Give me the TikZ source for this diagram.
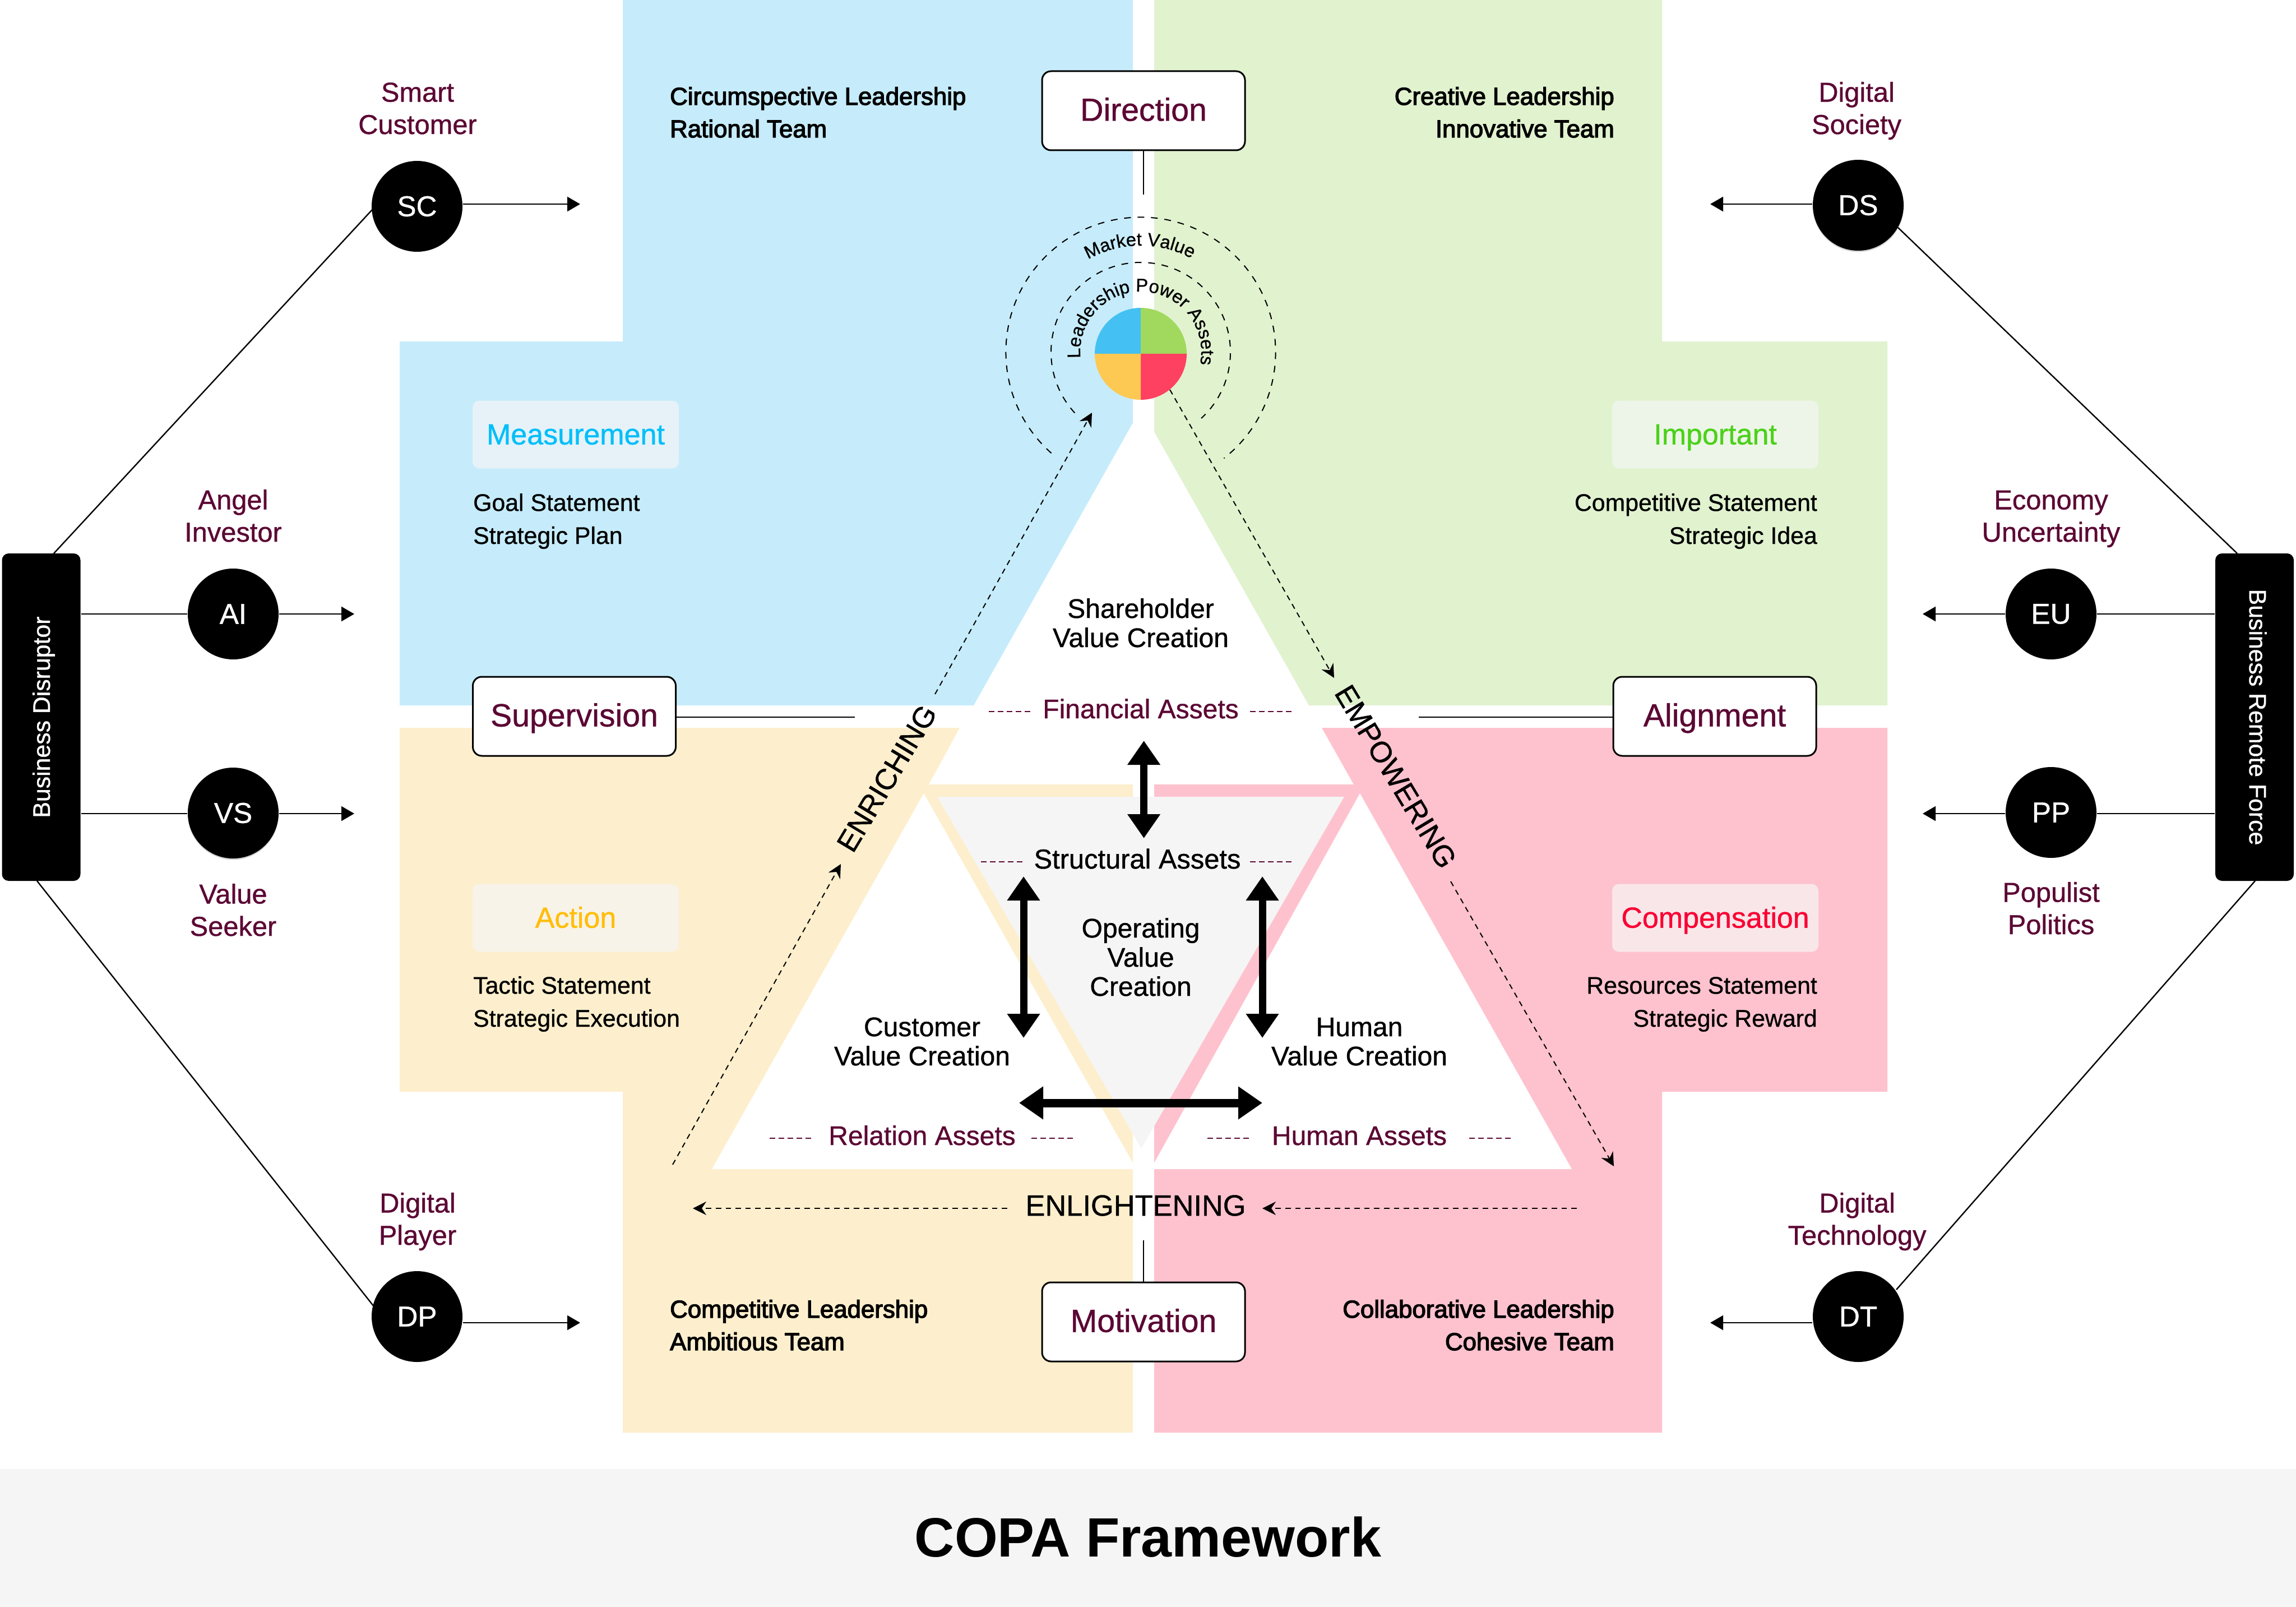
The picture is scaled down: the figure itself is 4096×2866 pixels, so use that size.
\documentclass[tikz,border=0pt]{standalone}
\usepackage{fontspec}
\setmainfont[FakeBold=0.8]{Liberation Sans}
\newfontfamily\medfont[FakeBold=3]{Liberation Sans}
\newfontfamily\titlefont{Liberation Sans Bold}
\usetikzlibrary{arrows.meta,decorations.text,shadows}
\definecolor{myblue}{RGB}{198, 236, 251}
\definecolor{mygreen}{RGB}{225, 242, 207}
\definecolor{myyellow}{RGB}{253, 239, 205}
\definecolor{mypink}{RGB}{254, 194, 206}
\definecolor{mygray}{RGB}{245, 245, 245}
\definecolor{mymaroon}{RGB}{92, 8, 52}
\definecolor{pieblue}{RGB}{69, 192, 243}
\definecolor{piegreen}{RGB}{160, 217, 93}
\definecolor{pieyellow}{RGB}{254, 201, 82}
\definecolor{piered}{RGB}{254, 65, 96}
\tikzset{every picture/.style={line width=0.6pt}}
\tikzset{
  sidelabel/.style={anchor=base,align=center,inner sep=0pt,text=mymaroon,font=\fontsize{12.2}{14.4}\selectfont},
  bodyleft/.style={anchor=base west,align=left,inner sep=0pt,font=\fontsize{10.7}{14.7}\selectfont},
  bodyright/.style={anchor=base east,align=right,inner sep=0pt,font=\fontsize{10.7}{14.7}\selectfont},
  leadleft/.style={anchor=base west,align=left,inner sep=0pt,font=\medfont\fontsize{10.95}{14.5}\selectfont},
  leadright/.style={anchor=base east,align=right,inner sep=0pt,font=\medfont\fontsize{10.95}{14.5}\selectfont},
  valuetext/.style={anchor=base,align=center,inner sep=0pt,font=\fontsize{12}{13}\selectfont},
  assettext/.style={anchor=base,inner sep=0pt,text=mymaroon,font=\fontsize{12}{13}\selectfont},
  flowtext/.style={anchor=center,inner sep=0pt,font=\fontsize{13.1}{14}\selectfont},
  titlebox/.style={draw,fill=white,line width=0.75pt,rounded corners=4pt,minimum width=90.5pt,minimum height=35.25pt,inner sep=0pt,text height=11pt,text depth=2pt,text=mymaroon,font=\fontsize{14.3}{16}\selectfont},
  chipbox/.style={rounded corners=3pt,minimum width=92pt,minimum height=30.25pt,inner sep=0pt,text height=10.8pt,text depth=2pt,font=\fontsize{13}{15}\selectfont},
  blackcircle/.style={circle,fill=black,minimum size=40.5pt,inner sep=0pt,text=white,font=\fontsize{12.8}{14}\selectfont},
  softshadow/.style={drop shadow={shadow xshift=0pt,shadow yshift=-0.6pt,opacity=0.35}},
  sidebar/.style={fill=black,rounded corners=3pt,minimum width=35pt,minimum height=146pt,inner sep=0pt},
  sidetext/.style={inner sep=0pt,text=white,font=\fontsize{10.7}{13}\selectfont},
  solidarrow/.style={-{Triangle[length=5.75pt,width=6.5pt]}},
  dasharrow/.style={dash pattern=on 2.4pt off 2pt,line width=0.5pt,-{Stealth[length=6pt,width=6pt,inset=2pt]}},
  thickarrow/.style={line width=3.25pt,{Triangle[length=10.75pt,width=14pt]}-{Triangle[length=10.75pt,width=14pt]}},
  arcdash/.style={dash pattern=on 3pt off 3pt,line width=0.5pt},
  assetdash/.style={draw=mymaroon,dash pattern=on 2.5pt off 1.5pt,line width=0.5pt}
}
\begin{document}
\begin{tikzpicture}[x=0.25pt,y=0.25pt,yscale=-1,xscale=1]
\useasboundingbox (0,0) rectangle (4096,2866);

%Shape: Polygon
\fill [myblue] (1111,0) -- (2021,0) -- (2021,754) -- (1737,1258) -- (713,1258) -- (713,609) -- (1111,609) -- cycle ;
\fill [mygreen] (2059,0) -- (2965,0) -- (2965,609) -- (3367,609) -- (3367,1258) -- (2335,1258) -- (2059,770) -- cycle ;
\fill [myyellow] (713,1298) -- (1712,1298) -- (1657,1399) -- (2021,1399) -- (2021,2555) -- (1111,2555) -- (1111,1947) -- (713,1947) -- cycle ;
\fill [mypink] (2358,1298) -- (3367,1298) -- (3367,1947) -- (2965,1947) -- (2965,2555) -- (2059,2555) -- (2059,1399) -- (2415,1399) -- cycle ;
%Inner triangles
\fill [white] (1648,1415) -- (2021,2074) -- (2021,2085) -- (1270,2085) -- cycle ;
\fill [white] (2426,1415) -- (2804,2085) -- (2059,2085) -- (2059,2074) -- cycle ;
\fill [mygray] (1672,1421) -- (2398,1421) -- (2036,2048) -- cycle ;
%Footer band
\fill [mygray] (0,2620) rectangle (4096,2866) ;
\node [inner sep=0pt,font=\titlefont\fontsize{24.7}{28}\selectfont] (copatitle) at (2048,2741) {COPA Framework};

%Pie
\foreach \a/\c in {180/pieblue,270/piegreen,0/piered,90/pieyellow}
  \fill [\c] (2035,631) -- +(\a:82) arc [start angle=\a,delta angle=90,radius=82] -- cycle ;
\draw [arcdash] (2035,628) ++(131.5:240.6) arc [start angle=131.5,end angle=411.9,radius=240.6] ;
\draw [arcdash] (2035,628) ++(137.3:160) arc [start angle=137.3,end angle=407.5,radius=160] ;
\path [decorate,decoration={text along path,text align=center,text={|\fontsize{8.2}{9}\selectfont|Market Value}}] (2035,628) ++(238:190) arc [start angle=238,end angle=301,radius=190] ;
\path [decorate,decoration={text along path,text align=center,text={|\fontsize{8.2}{9}\selectfont|Leadership Power Assets}}] (2035,628) ++(175:108) arc [start angle=175,end angle=371,radius=108] ;

%Title boxes
\node [titlebox] (direction) at (2040,197.5) {Direction};
\node [titlebox] (motivation) at (2040,2357.5) {Motivation};
\node [titlebox] (supervision) at (1024.5,1277.5) {Supervision};
\node [titlebox] (alignment) at (3059,1277.5) {Alignment};
\coordinate (dirend) at (2040,347);
\coordinate (motend) at (2040,2212);
\coordinate (supend) at (1525,1279);
\coordinate (aliend) at (2531,1279);
\draw (direction) -- (dirend) ;
\draw (motivation) -- (motend) ;
\draw (supervision.east |- supend) -- (supend) ;
\draw (alignment.west |- aliend) -- (aliend) ;

%Chips
\node [chipbox,fill={rgb,255:red,230;green,242;blue,248},text={rgb,255:red,0;green,191;blue,250}] (measurement) at (1027,775) {Measurement};
\node [chipbox,fill={rgb,255:red,237;green,245;blue,232},text={rgb,255:red,75;green,209;blue,26}] (important) at (3060,775) {Important};
\node [chipbox,fill={rgb,255:red,248;green,243;blue,232},text={rgb,255:red,255;green,190;blue,11}] (action) at (1027,1637) {Action};
\node [chipbox,fill={rgb,255:red,249;green,230;blue,233},text={rgb,255:red,250;green,0;blue,51}] (compensation) at (3060,1637) {Compensation};

%Text blocks
\node [leadleft] (circum) at (1194,245) {Circumspective Leadership\\Rational Team};
\node [leadright] (creative) at (2881,245) {Creative Leadership\\Innovative Team};
\node [leadleft] (competitive) at (1194,2408) {Competitive Leadership\\Ambitious Team};
\node [leadright] (collab) at (2881,2408) {Collaborative Leadership\\Cohesive Team};
\node [bodyleft] (goal) at (843,970) {Goal Statement\\Strategic Plan};
\node [bodyright] (compet) at (3243,970) {Competitive Statement\\Strategic Idea};
\node [bodyleft] (tactic) at (843,1831) {Tactic Statement\\Strategic Execution};
\node [bodyright] (resources) at (3243,1831) {Resources Statement\\Strategic Reward};

%Triangle texts
\node [valuetext] (sharevalue) at (2035,1154) {Shareholder\\Value Creation};
\node [valuetext] (opvalue) at (2035,1776) {Operating\\Value\\Creation};
\node [valuetext] (custvalue) at (1645,1900) {Customer\\Value Creation};
\node [valuetext] (humanvalue) at (2425,1900) {Human\\Value Creation};
\node [assettext] (financial) at (2035,1281) {Financial Assets};
\node [assettext,text=black,font=\fontsize{12.2}{13}\selectfont] (structural) at (2029,1549) {Structural Assets};
\node [assettext] (relation) at (1645,2042) {Relation Assets};
\node [assettext] (humanassets) at (2425,2042) {Human Assets};
\foreach \xa/\xb/\yy in {1764/1840/1269,2230/2306/1269,1750/1826/1537,2230/2306/1537,1373/1450/2030,1840/1916/2030,2154/2230/2030,2621/2697/2030}
  \draw [assetdash] (\xa,\yy) -- (\xb,\yy) ;

%Flow labels
\node [flowtext] (enlight) at (2026,2150) {ENLIGHTENING};
\node [flowtext,rotate=59] (enriching) at (1582,1388) {ENRICHING};
\node [flowtext,rotate=-59] (empowering) at (2490,1385) {EMPOWERING};

%Dashed arrows
\coordinate (enra) at (1200,2077);
\coordinate (enrb) at (1500,1541);
\coordinate (enrc) at (1668,1238);
\coordinate (enrd) at (1948,736);
\coordinate (empa) at (2087,695);
\coordinate (empb) at (2380,1209);
\coordinate (empc) at (2588,1572);
\coordinate (empd) at (2879,2080);
\coordinate (enla) at (1797,2155);
\coordinate (enlb) at (1236,2155);
\coordinate (enlc) at (2813,2155);
\coordinate (enld) at (2252,2155);
\draw [dasharrow] (enra) -- (enrb) ;
\draw [dasharrow] (enrc) -- (enrd) ;
\draw [dasharrow] (empa) -- (empb) ;
\draw [dasharrow] (empc) -- (empd) ;
\draw [dasharrow] (enla) -- (enlb) ;
\draw [dasharrow] (enlc) -- (enld) ;

%Thick arrows
\coordinate (thka) at (2040.6,1321);
\coordinate (thkb) at (2040.6,1495);
\coordinate (thkc) at (1826,1563);
\coordinate (thkd) at (1826,1851);
\coordinate (thke) at (2252,1563);
\coordinate (thkf) at (2252,1851);
\coordinate (thkg) at (1818,1967);
\coordinate (thkh) at (2252,1967);
\draw [thickarrow] (thka) -- (thkb) ;
\draw [thickarrow] (thkc) -- (thkd) ;
\draw [thickarrow] (thke) -- (thkf) ;
\draw [thickarrow,line width=3.75pt] (thkg) -- (thkh) ;

%Side bars
\node [sidebar] (disruptor) at (73.5,1279) {};
\node [sidetext,rotate=90] (disruptortext) at (78,1279) {Business Disruptor};
\node [sidebar] (remote) at (4022,1279) {};
\node [sidetext,rotate=-90] (remotetext) at (4028,1279) {Business Remote Force};

%Straight Lines
\coordinate (scend) at (1035,364);
\coordinate (dsend) at (3051,364);
\coordinate (aiend) at (632,1095);
\coordinate (vsend) at (632,1451);
\coordinate (euend) at (3430,1095);
\coordinate (ppend) at (3430,1451);
\coordinate (dpend) at (1035,2359);
\coordinate (dtend) at (3051,2359);
\coordinate (bdtop) at (96,987);
\coordinate (bdbot) at (66,1571);
\coordinate (brtop) at (3991,987);
\coordinate (brbot) at (4023,1571);
\coordinate (scin) at (664,374);
\coordinate (dpin) at (667,2330);
\coordinate (dsin) at (3385,405);
\coordinate (dtin) at (3383,2300);
\draw (bdtop) -- (scin) ;
\draw (bdbot) -- (dpin) ;
\draw (brtop) -- (dsin) ;
\draw (brbot) -- (dtin) ;

%Circles
\node [blackcircle] (sc) at (744,368) {SC};
\node [blackcircle] (ai) at (416,1095) {AI};
\node [blackcircle,softshadow] (vs) at (416,1450) {VS};
\node [blackcircle] (dp) at (744,2348) {DP};
\node [blackcircle,softshadow] (ds) at (3315,366) {DS};
\node [blackcircle] (eu) at (3659,1095) {EU};
\node [blackcircle] (pp) at (3659,1449) {PP};
\node [blackcircle] (dt) at (3315,2348) {DT};

%Side labels
\node [sidelabel] (smart) at (745,239) {Smart\\Customer};
\node [sidelabel] (angel) at (416,966) {Angel\\Investor};
\node [sidelabel] (valueseeker) at (416,1669) {Value\\Seeker};
\node [sidelabel] (digplayer) at (745,2220) {Digital\\Player};
\node [sidelabel] (digsociety) at (3312,239) {Digital\\Society};
\node [sidelabel] (economy) at (3659,966) {Economy\\Uncertainty};
\node [sidelabel] (populist) at (3659,1666) {Populist\\Politics};
\node [sidelabel] (digtech) at (3313,2220) {Digital\\Technology};

\draw [solidarrow] (sc.east |- scend) -- (scend) ;
\draw [solidarrow] (ds.west |- dsend) -- (dsend) ;
\draw [solidarrow] (ai) -- (aiend) ;
\draw [solidarrow] (vs.east |- vsend) -- (vsend) ;
\draw [solidarrow] (eu) -- (euend) ;
\draw [solidarrow] (pp.west |- ppend) -- (ppend) ;
\draw [solidarrow] (dp.east |- dpend) -- (dpend) ;
\draw [solidarrow] (dt.west |- dtend) -- (dtend) ;
\draw (disruptor.east |- ai) -- (ai) ;
\draw (disruptor.east |- vsend) -- (vs.west |- vsend) ;
\draw (remote.west |- eu) -- (eu) ;
\draw (remote.west |- ppend) -- (pp.east |- ppend) ;
\end{tikzpicture}
\end{document}
